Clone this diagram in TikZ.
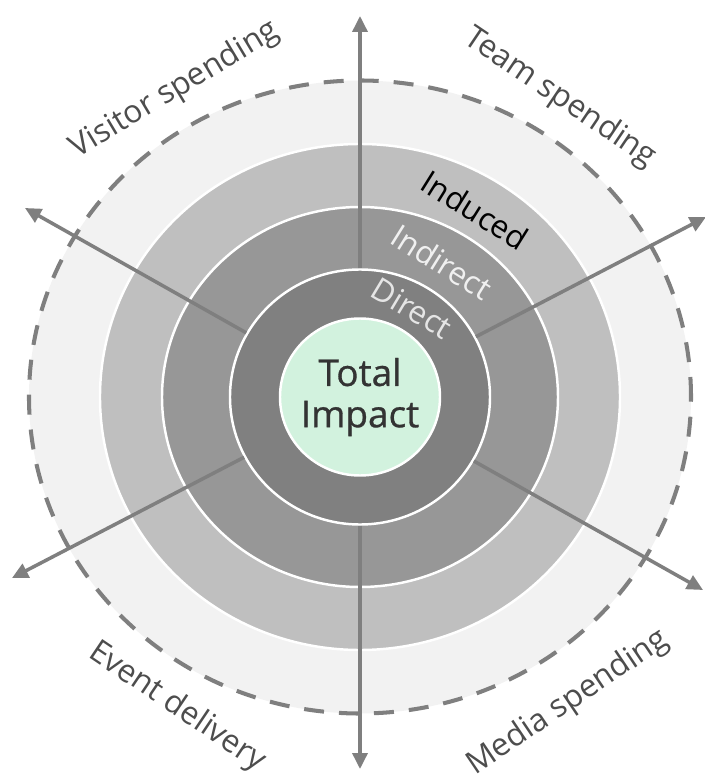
\documentclass[tikz,border=0pt]{standalone}
\usepackage{fontspec}
\setmainfont{Open Sans}
\newfontfamily\centerfont[FakeBold=0.8]{Open Sans}
\usepackage{xcolor}
\usetikzlibrary{shapes.geometric,arrows.meta}

\definecolor{outerfill}{HTML}{F2F2F2}
\definecolor{inducedfill}{HTML}{BFBFBF}
\definecolor{indirectfill}{HTML}{979797}
\definecolor{directfill}{HTML}{808080}
\definecolor{centerfill}{HTML}{D2F2DE}
\definecolor{spokegray}{HTML}{7F7F7F}
\definecolor{labelgray}{HTML}{4D4D4D}
\definecolor{centertext}{HTML}{333333}

\tikzset{
	ring/.style={ellipse, draw=white, line width=1.4pt, inner sep=0pt},
	spoke/.style={draw=spokegray, line width=2pt, -{Triangle[length=0.32cm,width=0.3cm]}},
	sector/.style={font=\fontsize{18}{22}\selectfont, text=labelgray},
	layer/.style={font=\fontsize{18}{22}\selectfont}
}

\begin{document}
\begin{tikzpicture}

\useasboundingbox (-7.2,-7.56) rectangle (6.88,7.94);

\node[ring, fill=outerfill, draw=spokegray, line width=2.3pt, dash pattern=on 0.4cm off 0.3cm, minimum width=13.24cm, minimum height=12.66cm] (outer) at (0,0) {};
\node[ring, fill=inducedfill, minimum width=10.4cm, minimum height=10.12cm] (induced) at (0,0) {};
\node[ring, fill=indirectfill, minimum width=7.92cm, minimum height=7.6cm] (indirect) at (0,0) {};
\node[ring, fill=directfill, minimum width=5.2cm, minimum height=5.1cm] (direct) at (0,0) {};

\coordinate (tipN) at (0,7.62);
\coordinate (tipS) at (0,-7.44);
\coordinate (tipNW) at (-6.7,3.78);
\coordinate (tipNE) at (6.92,3.6);
\coordinate (tipSE) at (6.86,-3.86);
\coordinate (tipSW) at (-6.96,-3.62);
\foreach \t in {tipN,tipS,tipNW,tipNE,tipSE,tipSW}{
	\draw[spoke] (direct) -- (\t);
}

\node[ring, fill=centerfill, minimum width=3.2cm, minimum height=3.14cm] (total) at (0,0) {};
\node[align=center, font=\centerfont\fontsize{21}{23.5}\selectfont, text=centertext] (totallbl) at (total) {Total\\Impact};

\node[layer, text=black, rotate=-32] (inducedlbl) at (2.3,3.74) {Induced};
\node[layer, text=white!94!black, rotate=-32] (indirectlbl) at (1.64,2.7) {Indirect};
\node[layer, text=white!90!black, rotate=-31] (directlbl) at (1.04,1.78) {Direct};

\node[sector, rotate=31] (visitor) at (-3.7,6.14) {Visitor spending};
\node[sector, rotate=-34] (team) at (4.0,5.98) {Team spending};
\node[sector, rotate=-34] (event) at (-3.66,-6.2) {Event delivery};
\node[sector, rotate=34] (media) at (4.16,-6.12) {Media spending};

\end{tikzpicture}
\end{document}
